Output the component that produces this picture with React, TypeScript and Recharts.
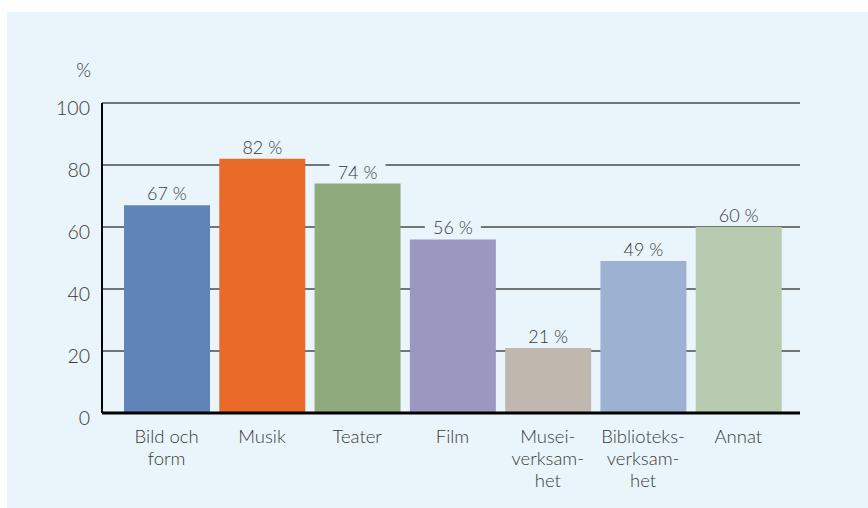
import React from 'react';
import { BarChart, Bar, XAxis, YAxis, CartesianGrid, Cell, LabelList } from 'recharts';

const categories = ['Bild och\nform', 'Musik', 'Teater', 'Film', 'Musei-\nverksam-\nhet', 'Biblioteks-\nverksam-\nhet', 'Annat'];
const values = [67, 82, 74, 56, 21, 49, 60];
const barColors = ['#5f84b7', '#ea6a29', '#8fab7e', '#9c97c0', '#c0b8ae', '#9db2d3', '#b8cab0'];
const yTicks = [0, 20, 40, 60, 80, 100];

const PANEL = '#eaf5fb';
const TEXT = '#383838';
const FONT = 'Lato, "Open Sans", sans-serif';

const data = categories.map((name, i) => ({ name, value: values[i] }));

const XTick = (props: any) => {
  const { x, y, payload } = props;
  const lines = String(payload.value).split('\n');
  return (
    <text x={x} y={y + 22} textAnchor="middle" fill={TEXT} fontSize={18.5} fontWeight={300} fontFamily={FONT}>
      {lines.map((l, i) => (
        <tspan key={i} x={x} dy={i === 0 ? 0 : 22}>{l}</tspan>
      ))}
    </text>
  );
};

const YTick = (props: any) => {
  const { x, y, payload } = props;
  return (
    <text x={x - 4} y={y + 12} textAnchor="end" fill={TEXT} fontSize={19.5} fontWeight={300} fontFamily={FONT}>
      {payload.value}
    </text>
  );
};

const ValueLabel = (props: any) => {
  const { x, y, width, value } = props;
  const cx = x + width / 2;
  return (
    <g>
      <rect x={cx - 28} y={y - 22} width={56} height={20} fill={PANEL} />
      <text x={cx} y={y - 5} textAnchor="middle" fill={TEXT} fontSize={18} fontWeight={300} fontFamily={FONT}>
        {value} %
      </text>
    </g>
  );
};

export default function App() {
  return (
    <div style={{ position: 'absolute', left: 0, top: 0, width: 868, height: 508, background: '#fff', overflow: 'hidden' }}>
      <div style={{ position: 'absolute', left: 7, top: 12, width: 861, height: 496, background: PANEL }} />
      <div style={{ position: 'absolute', left: 0, top: 0 }}>
        <BarChart width={868} height={508} data={data} margin={{ top: 103, right: 68, bottom: 25, left: 42 }}>
          <CartesianGrid vertical={false} stroke="#4a4a4a" strokeWidth={1.3} />
          <XAxis
            dataKey="name"
            axisLine={{ stroke: '#000', strokeWidth: 3 }}
            tickLine={false}
            height={70}
            padding={{ left: 17, right: 14 }}
            tick={<XTick />}
            interval={0}
          />
          <YAxis
            domain={[0, 100]}
            ticks={yTicks}
            width={60}
            axisLine={{ stroke: '#000', strokeWidth: 2 }}
            tickLine={false}
            tick={<YTick />}
          />
          <Bar dataKey="value" barSize={86} isAnimationActive={false}>
            {data.map((d, i) => (
              <Cell key={d.name} fill={barColors[i]} />
            ))}
            <LabelList dataKey="value" content={<ValueLabel />} />
          </Bar>
          <text x={91} y={77} textAnchor="end" fill={TEXT} fontSize={19} fontWeight={300} fontFamily={FONT}>%</text>
        </BarChart>
      </div>
    </div>
  );
}
